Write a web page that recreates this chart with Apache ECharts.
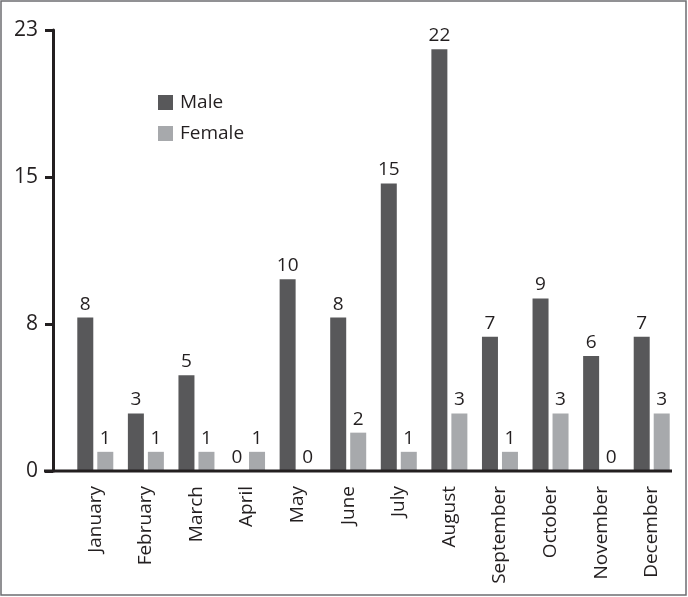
<!DOCTYPE html>
<html><head><meta charset="utf-8">
<script src="https://cdn.jsdelivr.net/npm/echarts@6/dist/echarts.min.js"></script>
<style>html,body{margin:0;padding:0;background:#fff}#c{width:688px;height:597px}</style>
</head><body><div id="c"></div>
<script>
const categories = ['January','February','March','April','May','June','July','August','September','October','November','December'];
const maleValues = [8,3,5,0,10,8,15,22,7,9,6,7];
const femaleValues = [1,1,1,1,0,2,1,3,1,3,0,3];
const yMax = 23;
const yTickCount = 3;

const FONT = '"Open Sans", "Noto Sans", sans-serif';
const INK = '#231f20';
const chart = echarts.init(document.getElementById('c'), null, {renderer:'canvas'});
const labelStyle = {show:true, position:'top', distance:4, color:INK, fontSize:19, fontFamily:FONT};
chart.setOption({
  animation:false,
  backgroundColor:'#fff',
  grid:{left:70, right:11, top:30, bottom:126, containLabel:false},
  legend:{
    orient:'vertical', left:153, top:88, itemWidth:15, itemHeight:15, itemGap:12,
    icon:'rect',
    textStyle:{fontSize:19, fontFamily:FONT, color:INK, padding:[0,0,0,2]},
    data:['Male','Female']
  },
  xAxis:{
    type:'category', data:categories,
    axisLine:{show:false}, axisTick:{show:false},
    axisLabel:{rotate:90, fontSize:19, fontFamily:FONT, color:INK, margin:15, interval:0}
  },
  yAxis:{
    type:'value', min:0, max:yMax, interval:yMax/yTickCount, offset:17,
    splitLine:{show:false},
    axisLine:{show:true, lineStyle:{color:INK, width:3}},
    axisTick:{show:true, length:8, lineStyle:{color:INK, width:3}},
    axisLabel:{fontSize:21, fontFamily:FONT, color:INK, margin:15, formatter:v=>String(Math.round(v))}
  },
  series:[
    {name:'Male', type:'bar', data:maleValues, barWidth:16, barGap:'25%', itemStyle:{color:'#58585a'}, label:labelStyle},
    {name:'Female', type:'bar', data:femaleValues, barWidth:16, itemStyle:{color:'#a7a9ac'}, label:labelStyle}
  ]
});
const y0 = chart.convertToPixel({yAxisIndex:0}, 0);
chart.setOption({
  graphic:[
    {type:'line', shape:{x1:44, y1:y0, x2:672, y2:y0}, style:{stroke:INK, lineWidth:3}, z:10},
    {type:'rect', shape:{x:1, y:1, width:685, height:594}, style:{fill:null, stroke:'#6d6e71', lineWidth:1.5}, z:10}
  ]
});
</script></body></html>
